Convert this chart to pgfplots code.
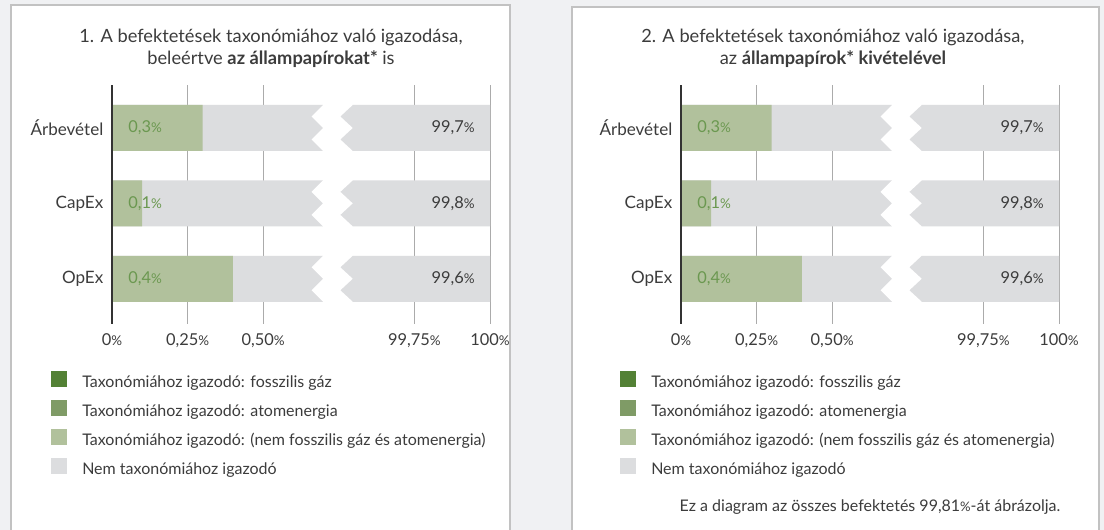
\documentclass[border=0pt]{standalone}
\usepackage{pgfplots}
\pgfplotsset{compat=1.18}
\usepackage{fontspec}
\setmainfont{Lato}
\definecolor{bgc}{HTML}{F0F1F3}
\definecolor{bordc}{HTML}{C2C2C2}
\definecolor{greyc}{HTML}{DCDDDF}
\definecolor{lgreen}{HTML}{B1C19C}
\definecolor{mgreen}{HTML}{7F9B66}
\definecolor{dgreen}{HTML}{538135}
\definecolor{labgreen}{HTML}{6B9850}
\definecolor{txt}{HTML}{3C3C3C}
\definecolor{gridc}{HTML}{ABABAB}
\definecolor{axc}{HTML}{333333}
\newcommand{\pc}{\scalebox{0.82}{\%}}

\pgfplotstableread{
y green grey
1 0.4 1.25
2 0.1 1.25
3 0.3 1.25
}\bars

\pgfplotsset{
  mychart/.style={
    scale only axis, width=283.5pt, height=179.25pt,
    xmin=0, xmax=1.25, ymin=0.4, ymax=3.57,
    axis line style={draw=none},
    xtick={0,0.25,0.5,1,1.25},
    xticklabels={{0\pc},{0,25\pc},{0,50\pc},{99,75\pc},{100\pc}},
    ytick={1,2,3}, yticklabels={OpEx,CapEx,Árbevétel},
    major tick length=0pt,
    xmajorgrids, grid style={gridc, line width=0.75pt},
    xticklabel style={font=\fontsize{12.3pt}{14pt}\selectfont, text=txt, yshift=-3.5pt},
    yticklabel style={font=\fontsize{12.8pt}{14pt}\selectfont, text=txt, xshift=-3pt},
    clip=false,
    title style={font=\fontsize{13.7pt}{16.5pt}\selectfont, text=txt, align=center, anchor=center},
    legend style={at={(axis description cs:-0.1614,-0.197)}, anchor=north west,
      draw=none, fill=none, inner sep=0pt, row sep=6.75pt,
      font=\fontsize{12pt}{14pt}\selectfont, text=txt,
      nodes={inner sep=0pt, text height=9pt, text depth=3pt},
      /tikz/every odd column/.append style={column sep=11.25pt}},
    legend cell align=left,
    legend image code/.code={\fill[#1, draw=none] (0pt,-3pt) rectangle (12pt,9pt);},
  },
  brk/.style={fill=white, draw=none, forget plot},
  glab/.style={draw=none, forget plot, nodes near coords, point meta=explicit symbolic,
    every node near coord/.style={anchor=west, inner sep=0pt, text=labgreen, font=\fontsize{12.3pt}{14pt}\selectfont}},
  rlab/.style={draw=none, forget plot, nodes near coords, point meta=explicit symbolic,
    every node near coord/.style={anchor=east, inner sep=0pt, text=txt, font=\fontsize{12.3pt}{14pt}\selectfont}},
  gbar/.style={xbar, bar width=0.61, bar shift=0pt, draw=none, forget plot},
}

\begin{document}
\begin{tikzpicture}
\useasboundingbox (0,0) rectangle (828pt,397.5pt);
\fill[bgc] (0,0) rectangle (828pt,397.5pt);
\filldraw[fill=white, draw=bordc, line width=1.5pt] (8.25pt,-5pt) rectangle (382.5pt,393.5pt);
\filldraw[fill=white, draw=bordc, line width=1.5pt] (429pt,-5pt) rectangle (824.25pt,392pt);

% ---------- left chart ----------
\begin{axis}[mychart, at={(84pt,154.5pt)}, anchor=south west,
  title={1. A befektetések taxonómiához való igazodása,\\beleértve \textbf{az állampapírokat*} is},
  title style={at={(axis description cs:0.4206,1.12)}},
]
\addlegendimage{fill=dgreen}\addlegendentry{Taxonómiához igazodó: fosszilis gáz}
\addlegendimage{fill=mgreen}\addlegendentry{Taxonómiához igazodó: atomenergia}
\addlegendimage{fill=lgreen}\addlegendentry{Taxonómiához igazodó: (nem fosszilis gáz és atomenergia)}
\addlegendimage{fill=greyc}\addlegendentry{Nem taxonómiához igazodó}
\addplot[gbar, fill=greyc] table[x=grey, y=y]{\bars};
\addplot[gbar, fill=lgreen] table[x=green, y=y]{\bars};
\addplot[brk] coordinates {(0.698,3.325) (0.698,3.305) (0.660,3.1525) (0.698,3) (0.660,2.8475) (0.698,2.695) (0.698,2.675) (0.796,2.675) (0.796,2.695) (0.755,2.8475) (0.796,3) (0.755,3.1525) (0.796,3.305) (0.796,3.325)} -- cycle;
\addplot[brk] coordinates {(0.698,2.325) (0.698,2.305) (0.660,2.1525) (0.698,2) (0.660,1.8475) (0.698,1.695) (0.698,1.675) (0.796,1.675) (0.796,1.695) (0.755,1.8475) (0.796,2) (0.755,2.1525) (0.796,2.305) (0.796,2.325)} -- cycle;
\addplot[brk] coordinates {(0.698,1.325) (0.698,1.305) (0.660,1.1525) (0.698,1) (0.660,0.8475) (0.698,0.695) (0.698,0.675) (0.796,0.675) (0.796,0.695) (0.755,0.8475) (0.796,1) (0.755,1.1525) (0.796,1.305) (0.796,1.325)} -- cycle;
\addplot[glab] coordinates {(0.053,3)[0,3\pc] (0.053,2)[0,1\pc] (0.053,1)[0,4\pc]};
\addplot[rlab] coordinates {(1.2,3)[99,7\pc] (1.2,2)[99,8\pc] (1.2,1)[99,6\pc]};
\draw[axc, line width=1.1pt] (axis cs:0,0.4) -- (axis cs:0,3.57);
\end{axis}

% ---------- right chart ----------
\begin{axis}[mychart, at={(510.75pt,154.5pt)}, anchor=south west,
  title={2. A befektetések taxonómiához való igazodása,\\az \textbf{állampapírok* kivételével}},
  title style={at={(axis description cs:0.402,1.12)}},
]
\addlegendimage{fill=dgreen}\addlegendentry{Taxonómiához igazodó: fosszilis gáz}
\addlegendimage{fill=mgreen}\addlegendentry{Taxonómiához igazodó: atomenergia}
\addlegendimage{fill=lgreen}\addlegendentry{Taxonómiához igazodó: (nem fosszilis gáz és atomenergia)}
\addlegendimage{fill=greyc}\addlegendentry{Nem taxonómiához igazodó}
\addplot[gbar, fill=greyc] table[x=grey, y=y]{\bars};
\addplot[gbar, fill=lgreen] table[x=green, y=y]{\bars};
\addplot[brk] coordinates {(0.698,3.325) (0.698,3.305) (0.660,3.1525) (0.698,3) (0.660,2.8475) (0.698,2.695) (0.698,2.675) (0.796,2.675) (0.796,2.695) (0.755,2.8475) (0.796,3) (0.755,3.1525) (0.796,3.305) (0.796,3.325)} -- cycle;
\addplot[brk] coordinates {(0.698,2.325) (0.698,2.305) (0.660,2.1525) (0.698,2) (0.660,1.8475) (0.698,1.695) (0.698,1.675) (0.796,1.675) (0.796,1.695) (0.755,1.8475) (0.796,2) (0.755,2.1525) (0.796,2.305) (0.796,2.325)} -- cycle;
\addplot[brk] coordinates {(0.698,1.325) (0.698,1.305) (0.660,1.1525) (0.698,1) (0.660,0.8475) (0.698,0.695) (0.698,0.675) (0.796,0.675) (0.796,0.695) (0.755,0.8475) (0.796,1) (0.755,1.1525) (0.796,1.305) (0.796,1.325)} -- cycle;
\addplot[glab] coordinates {(0.053,3)[0,3\pc] (0.053,2)[0,1\pc] (0.053,1)[0,4\pc]};
\addplot[rlab] coordinates {(1.2,3)[99,7\pc] (1.2,2)[99,8\pc] (1.2,1)[99,6\pc]};
\draw[axc, line width=1.1pt] (axis cs:0,0.4) -- (axis cs:0,3.57);
\end{axis}

\node[font=\fontsize{12pt}{14pt}\selectfont, text=txt, anchor=center] at (652.5pt,17.25pt) {Ez a diagram az összes befektetés 99,81\pc-át ábrázolja.};
\end{tikzpicture}
\end{document}
